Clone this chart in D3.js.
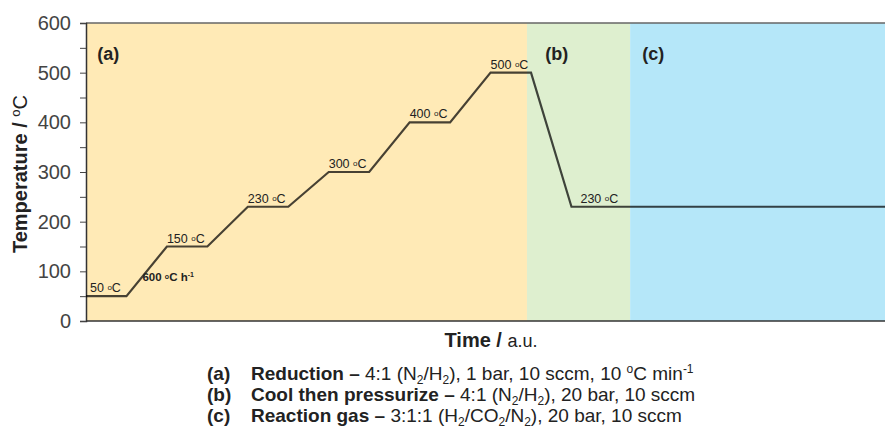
<!DOCTYPE html>
<html>
<head>
<meta charset="utf-8">
<script src="https://cdn.jsdelivr.net/npm/d3@7"></script>
<style>
  body { margin: 0; background: #fff; }
  svg { display: block; font-family: "Liberation Sans", Arial, sans-serif; }
</style>
</head>
<body>
<div id="chart"></div>
<script>
// temperature program (time in a.u.)
var stepTimes = [0, 1, 2, 3, 4, 5, 6, 7, 8, 9, 10, 11, 12, 19.75];
var stepTemps = [50, 50, 150, 150, 230, 230, 300, 300, 400, 400, 500, 500, 230, 230];

// plateau labels
var plateauTimes = [0, 2, 4, 6, 8, 10, 12];
var plateauTemps = [50, 150, 230, 300, 400, 500, 230];

// phases
var phaseNames = ["(a)", "(b)", "(c)"];
var phaseStart = [0, 10.9, 13.45];
var phaseEnd = [10.9, 13.45, 19.75];
var phaseLabelTimes = [0.28, 11.35, 13.75];
var phaseColors = ["#ffeab6", "#deefcf", "#b5e7f9"];

var yTicks = [0, 100, 200, 300, 400, 500, 600];

var legendKeys = ["(a)", "(b)", "(c)"];
var legendTitles = ["Reduction \u2013", "Cool then pressurize \u2013", "Reaction gas \u2013"];

var W = 885, H = 434;
var m = {left: 86, top: 23, right: 0, bottom: 113};

var svg = d3.select("#chart").append("svg")
    .attr("width", W)
    .attr("height", H);

var x = d3.scaleLinear().domain([0, 19.75]).range([m.left, W - m.right]);
var y = d3.scaleLinear().domain([0, 600]).range([H - m.bottom, m.top]);

//Draw phase backgrounds
svg.selectAll(".phase")
    .data(phaseNames)
    .enter().append("rect")
    .attr("class", "phase")
    .attr("x", function(d, i) { return x(phaseStart[i]); })
    .attr("width", function(d, i) { return x(phaseEnd[i]) - x(phaseStart[i]); })
    .attr("y", y(600))
    .attr("height", y(0) - y(600))
    .attr("fill", function(d, i) { return phaseColors[i]; });

svg.selectAll(".phaseLabel")
    .data(phaseNames)
    .enter().append("text")
    .attr("class", "phaseLabel")
    .attr("x", function(d, i) { return x(phaseLabelTimes[i]); })
    .attr("y", y(600) + 37)
    .style("font-size", "18px")
    .attr("font-weight", "bold")
    .attr("fill", "#222")
    .text(function(d) { return d; });

// frame lines
svg.append("line")
    .attr("x1", x(0)).attr("x2", W)
    .attr("y1", y(600)).attr("y2", y(600))
    .attr("stroke", "#666").attr("stroke-width", 1.5);
svg.append("line")
    .attr("x1", x(0)).attr("x2", W)
    .attr("y1", y(0)).attr("y2", y(0))
    .attr("stroke", "#333").attr("stroke-width", 1.5);

// y axis
var yAxis = d3.axisLeft(y)
    .tickValues(d3.range(0, 601, 50))
    .tickSize(6)
    .tickPadding(9)
    .tickFormat(function(d) { return yTicks.indexOf(d) >= 0 ? d : ""; });

var gy = svg.append("g")
    .attr("transform", "translate(" + x(0) + ",0)")
    .call(yAxis);
gy.select(".domain").attr("stroke", "#333").attr("stroke-width", 1.5);
gy.selectAll(".tick line").attr("stroke", "#444");
gy.selectAll(".tick text")
    .style("font-size", "20px")
    .style("font-family", "'Liberation Sans', Arial, sans-serif")
    .attr("fill", "#444");

// program line
var line = d3.line()
    .x(function(d) { return x(d[0]); })
    .y(function(d) { return y(d[1]); });

svg.append("path")
    .datum(d3.zip(stepTimes, stepTemps))
    .attr("d", line)
    .attr("fill", "none")
    .attr("stroke", "#000")
    .attr("stroke-opacity", 0.72)
    .attr("stroke-width", 2.2);

// plateau labels
var pl = svg.selectAll(".plateau")
    .data(plateauTemps)
    .enter().append("text")
    .attr("class", "plateau")
    .attr("x", function(d, i) {
        var dx = i == 0 ? 4 : (i == plateauTemps.length - 1 ? 9 : 0);
        return x(plateauTimes[i]) + dx;
    })
    .attr("y", function(d) { return y(d) - 4; })
    .style("font-size", "12.5px")
    .attr("fill", "#222");
pl.append("tspan").text(function(d) { return d + " "; });
pl.append("tspan").style("font-size", "8px").attr("dy", -2).text("o");
pl.append("tspan").attr("dy", 2).text("C");

// ramp rate label
var rate = svg.append("text")
    .attr("x", x(1) + 16)
    .attr("y", y(80))
    .style("font-size", "11.5px")
    .attr("font-weight", "bold")
    .attr("fill", "#222");
rate.append("tspan").text("600 ");
rate.append("tspan").style("font-size", "7px").attr("dy", -2).text("o");
rate.append("tspan").attr("dy", 2).text("C h");
rate.append("tspan").style("font-size", "7px").attr("dy", -4).text("-1");

// y axis title
var yt = svg.append("text")
    .attr("transform", "translate(27,174) rotate(-90)")
    .attr("text-anchor", "middle")
    .style("font-size", "20px")
    .attr("fill", "#222");
yt.append("tspan").attr("font-weight", "bold").text("Temperature / ");
yt.append("tspan").style("font-size", "13px").attr("dy", -7).text("o");
yt.append("tspan").attr("dy", 7).text("C");

// x axis title
var xt = svg.append("text")
    .attr("x", 491)
    .attr("y", 347)
    .attr("text-anchor", "middle")
    .style("font-size", "20px")
    .attr("fill", "#222");
xt.append("tspan").attr("font-weight", "bold").text("Time / ");
xt.append("tspan").style("font-size", "18px").text("a.u.");

// caption
var capY = [380, 401, 422];
var lg = svg.append("g").style("font-size", "19px").attr("fill", "#222");
lg.selectAll(".key")
    .data(legendKeys)
    .enter().append("text")
    .attr("x", 207)
    .attr("y", function(d, i) { return capY[i]; })
    .attr("font-weight", "bold")
    .text(function(d) { return d; });

function sub(t, s, back) {
    t.append("tspan").style("font-size", "12px").attr("dy", 4).text(s);
    t.append("tspan").attr("dy", -4).text(back);
}

var rows = lg.selectAll(".row")
    .data(legendTitles)
    .enter().append("text")
    .attr("x", 251)
    .attr("y", function(d, i) { return capY[i]; });

rows.each(function(d, i) {
    var t = d3.select(this);
    t.append("tspan").attr("font-weight", "bold").text(d + " ");
    if (i == 0 || i == 1) {
        t.append("tspan").text("4:1 (N");
        sub(t, "2", "/H");
        if (i == 0) {
            sub(t, "2", "), 1 bar, 10 sccm, 10 ");
            t.append("tspan").style("font-size", "12px").attr("dy", -7).text("o");
            t.append("tspan").attr("dy", 7).text("C min");
            t.append("tspan").style("font-size", "12px").attr("dy", -7).text("-1");
        } else {
            sub(t, "2", "), 20 bar, 10 sccm");
        }
    } else {
        t.append("tspan").text("3:1:1 (H");
        sub(t, "2", "/CO");
        sub(t, "2", "/N");
        sub(t, "2", "),  20 bar, 10 sccm");
    }
});
</script>
</body>
</html>
